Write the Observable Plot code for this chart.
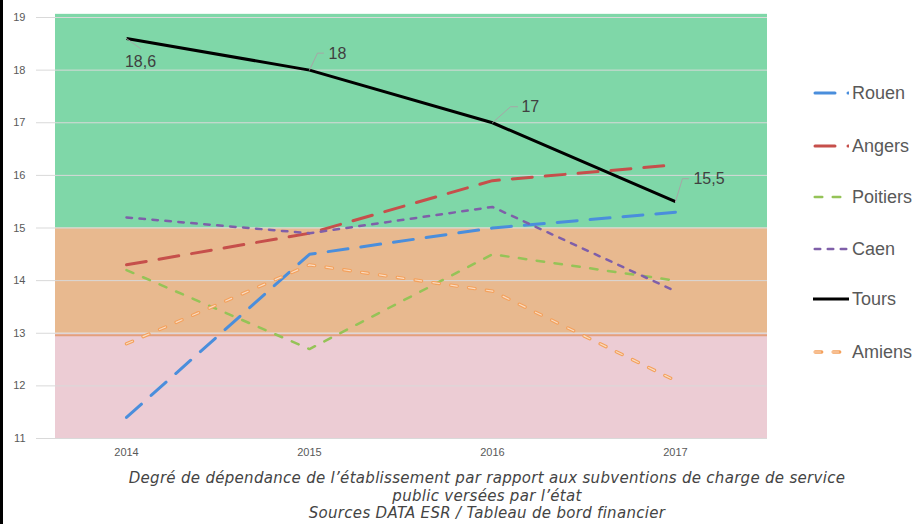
<!DOCTYPE html>
<html>
<head>
<meta charset="utf-8">
<script src="https://cdn.jsdelivr.net/npm/d3@7"></script>
<script src="https://cdn.jsdelivr.net/npm/@observablehq/plot@0.6"></script>
<style>
  body { margin: 0; background: #fff; }
  #wrap { position: relative; width: 916px; height: 524px; overflow: hidden; background: #fff;
          font-family: "Liberation Sans", Arial, sans-serif; }
  #chart { position: absolute; left: 0; top: 0; }
  #edge { position: absolute; left: 0; top: 0; width: 3px; height: 524px; background: #000; }
  #legend { position: absolute; left: 813px; top: 0; width: 103px; height: 400px; }
  .item { position: absolute; left: 0; height: 22px; display: flex; align-items: center; white-space: nowrap; }
  .item svg { display: block; flex: none; }
  .item span { font-size: 18px; color: #595959; margin-left: 3px; line-height: 22px; }
  #caption { position: absolute; left: 87px; width: 800px; top: 470px; text-align: center; white-space: nowrap;
             font-family: "DejaVu Sans", sans-serif; font-style: italic; font-weight: 200; font-size: 15px;
             letter-spacing: 0.3px; color: #444444; }
  #caption div { height: 17.5px; line-height: 17.5px; }
</style>
</head>
<body>
<div id="wrap">
  <div id="chart"></div>
  <div id="legend"></div>
  <div id="caption"><div>Degré de dépendance de l’établissement par rapport aux subventions de charge de service</div><div>public versées par l’état</div><div>Sources DATA ESR / Tableau de bord financier</div></div>
  <div id="edge"></div>
</div>
<script>
// ---------------- DATA ----------------
const years = [2014, 2015, 2016, 2017];
const seriesNames = ["Rouen", "Angers", "Poitiers", "Caen", "Tours", "Amiens"];
const rouen    = [11.4, 14.5, 15.0, 15.3];
const angers   = [14.3, 14.9, 15.9, 16.2];
const poitiers = [14.2, 12.7, 14.5, 14.0];
const caen     = [15.2, 14.9, 15.4, 13.8];
const tours    = [18.6, 18.0, 17.0, 15.5];
const amiens   = [12.8, 14.3, 13.8, 12.1];
const yTicks = [11, 12, 13, 14, 15, 16, 17, 18, 19];
const bandLows  = [11, 13, 15];
const bandHighs = [13, 15, 19];
const toursLabelTexts = ["18,6", "18", "17", "15,5"];

// ---------------- STYLES / LAYOUT ----------------
const W = 916, H = 460, mL = 55, mR = 149, mT = 17, mB = 22;
const xDomain = [2014 - 0.388, 2017 + 0.503];
const yDomain = [11, 19];
const bandColors = ["#ecccd4", "#e8b98f", "#7fd7a8"];
const bandTopExtra = [0, 0, 0.06];
const styles = {
  Rouen:    {stroke: "#4a8edc", width: 3,   dash: "20,13"},
  Angers:   {stroke: "#c64f4b", width: 3,   dash: "20,13"},
  Poitiers: {stroke: "#95c357", width: 2.5, dash: "7.5,10.5"},
  Caen:     {stroke: "#7f5fa9", width: 2.5, dash: "5.5,7.5"},
  Tours:    {stroke: "#000000", width: 3,   dash: null},
  Amiens:   {stroke: "#f4a15c", width: 3.4, dash: "6.5,11.5", inner: "#f9dcc3", innerWidth: 1.2}
};
const labelStyles = [
  {dx: 14, dy: 23,  anchor: "middle", leader: [[0, 0], [14, 10]]},
  {dx: 19, dy: -16, anchor: "start",  leader: [[0, 0], [8, -17], [14, -17]]},
  {dx: 29, dy: -16, anchor: "start",  leader: [[0, 0], [18, -16], [25, -16]]},
  {dx: 18, dy: -23, anchor: "start",  leader: [[0, 0], [7, -23], [13, -23]]}
];
const legendY = [93.3, 146, 196.7, 249, 299.3, 351.7];

// ---------------- BUILD ----------------
const seriesValues = [rouen, angers, poitiers, caen, tours, amiens];
const rows = seriesNames.map((name, s) => years.map((yr, i) => ({name, year: yr, value: seriesValues[s][i]})));
const bands = bandLows.map((lo, i) => ({lo, hi: bandHighs[i] + bandTopExtra[i], color: bandColors[i]}));
const toursLabels = years.map((yr, i) => ({year: yr, value: tours[i], text: toursLabelTexts[i]}));

const xS = d3.scaleLinear().domain(xDomain).range([mL, W - mR]);
const yS = d3.scaleLinear().domain(yDomain).range([H - mB, mT]);
const leaderRows = toursLabels.flatMap((d, i) => labelStyles[i].leader.map(([ox, oy]) => ({
  id: i, year: xS.invert(xS(d.year) + ox), value: yS.invert(yS(d.value) + oy)
})));

const marks = [];
bands.forEach(b => marks.push(Plot.rect([b], {x1: () => xDomain[0], x2: () => xDomain[1], y1: "lo", y2: "hi", fill: b.color})));
marks.push(Plot.gridY(yTicks, {stroke: "#d9d9d9", strokeOpacity: 1, strokeWidth: 1, insetLeft: -19}));
marks.push(Plot.ruleY([13], {stroke: "#e3a07c", strokeWidth: 2, dy: 2}));
marks.push(Plot.axisY(yTicks, {tickSize: 0, tickPadding: 30, fill: "#595959", fontSize: 11, label: null, tickFormat: d => String(d)}));
marks.push(Plot.axisX(years, {tickSize: 0, tickPadding: 10, fill: "#595959", fontSize: 11, label: null, tickFormat: d => String(d)}));
seriesNames.forEach((name, s) => {
  const st = styles[name];
  marks.push(Plot.line(rows[s], {x: "year", y: "value", stroke: st.stroke, strokeWidth: st.width,
    strokeDasharray: st.dash || undefined, strokeLinecap: st.dash ? "round" : "butt", strokeLinejoin: "round"}));
  if (st.inner) {
    marks.push(Plot.line(rows[s], {x: "year", y: "value", stroke: st.inner, strokeWidth: st.innerWidth,
      strokeDasharray: st.dash, strokeLinecap: "round", strokeLinejoin: "round"}));
  }
});
marks.push(Plot.line(leaderRows, {x: "year", y: "value", z: "id", stroke: "#a6a6a6", strokeWidth: 1}));
toursLabels.forEach((d, i) => {
  const ls = labelStyles[i];
  marks.push(Plot.text([d], {x: "year", y: "value", text: "text", dx: ls.dx, dy: ls.dy, textAnchor: ls.anchor,
    fontSize: 16, fill: "#404040", fontFamily: "Liberation Sans"}));
});

const chart = Plot.plot({
  width: W, height: H,
  marginLeft: mL, marginRight: mR, marginTop: mT, marginBottom: mB,
  x: {type: "linear", domain: xDomain},
  y: {type: "linear", domain: yDomain},
  style: {fontFamily: "'Liberation Sans', Arial, sans-serif", fontSize: "11px", background: "transparent", color: "#595959", overflow: "visible"},
  marks
});
document.getElementById("chart").appendChild(chart);

// ---------------- LEGEND ----------------
const legend = document.getElementById("legend");
seriesNames.forEach((name, s) => {
  const st = styles[name];
  const item = document.createElement("div");
  item.className = "item";
  item.style.top = (legendY[s] - 11) + "px";
  const ns = "http://www.w3.org/2000/svg";
  const svg = document.createElementNS(ns, "svg");
  svg.setAttribute("width", 36); svg.setAttribute("height", 22);
  const mk = (stroke, w, dash, cap) => {
    const l = document.createElementNS(ns, "line");
    l.setAttribute("x1", st.dash ? w / 2 + 0.5 : 0); l.setAttribute("x2", 36);
    l.setAttribute("y1", 11); l.setAttribute("y2", 11);
    l.setAttribute("stroke", stroke); l.setAttribute("stroke-width", w);
    if (dash) l.setAttribute("stroke-dasharray", dash);
    l.setAttribute("stroke-linecap", cap);
    svg.appendChild(l);
  };
  mk(st.stroke, st.width, st.dash, st.dash ? "round" : "butt");
  if (st.inner) mk(st.inner, st.innerWidth, st.dash, "round");
  item.appendChild(svg);
  const span = document.createElement("span");
  span.textContent = name;
  item.appendChild(span);
  legend.appendChild(item);
});
</script>
</body>
</html>
